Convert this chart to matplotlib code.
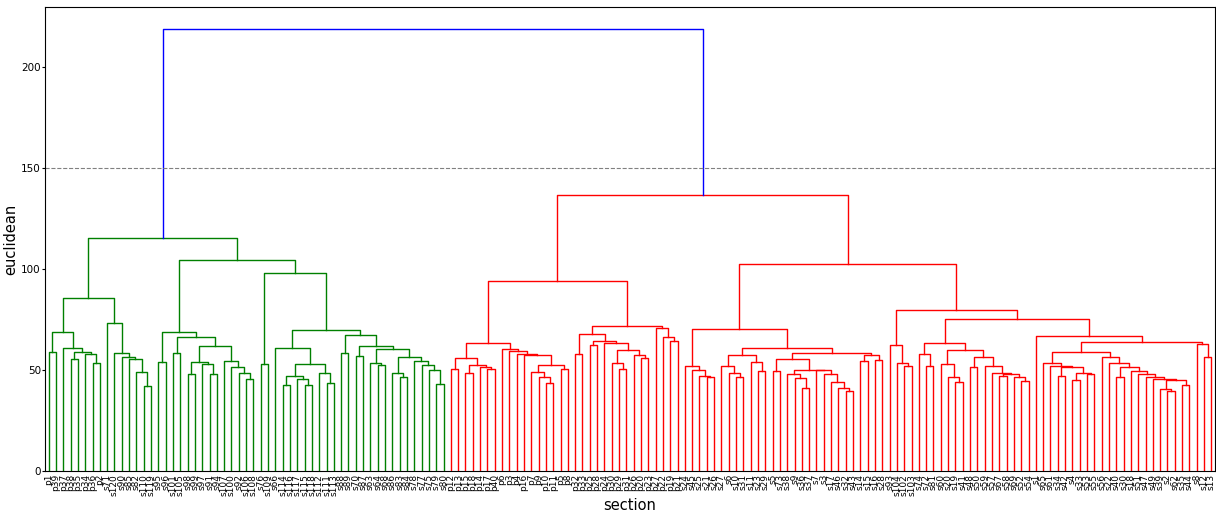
import matplotlib.pyplot as plt

# leaf order of the dendrogram, left to right
green_leaves = [
    "p1", "p39", "p37", "p38", "p35", "p34", "p36", "p2", "s71", "s120",
    "s90", "s85", "s82", "s110", "s119", "s95", "s96", "s101", "s105", "s98",
    "s99", "s97", "s91", "s94", "s107", "s100", "s92", "s106", "s108", "s76",
    "s109", "s66", "s114", "s116", "s117", "s115", "s118", "s112", "s111", "s113",
    "s88", "s89", "s70", "s87", "s63", "s64", "s68", "s86", "s83", "s84",
    "s78", "s77", "s75", "s79", "s80",
]
red_leaves = [
    "p12", "p13", "p15", "p18", "p14", "p17", "p40", "p6", "p3", "p4",
    "p16", "p7", "p9", "p10", "p11", "p5", "p8", "p32", "p33", "p25",
    "p28", "p24", "p30", "p29", "p31", "p26", "p20", "p23", "p27", "p22",
    "p19", "p21",
    "s24", "s45", "s25", "s21", "s26", "s27", "s6", "s10", "s31", "s11",
    "s23", "s29", "s5", "s73", "s38", "s9", "s36", "s37", "s7", "s3",
    "s17", "s46", "s32", "s43", "s14", "s15", "s16", "s28", "s93", "s104",
    "s102", "s103", "s74", "s72", "s81", "s60", "s20", "s19", "s41", "s48",
    "s50", "s59", "s57", "s67", "s58", "s69", "s52", "s54", "s1", "s65",
    "s61", "s34", "s42", "s4", "s33", "s53", "s55", "s56", "s22", "s40",
    "s30", "s18", "s51", "s47", "s49", "s39", "s2", "s62", "s35", "s44",
    "s8", "s12", "s13",
]

# merges: (node, left child, right child, height)
green_links = [
    ("g1", "p1", "p39", 58.9),
    ("g2", "p38", "p35", 55.3),
    ("g3", "p36", "p2", 53.3),
    ("g4", "p34", "g3", 57.9),
    ("g5", "g2", "g4", 59.2),
    ("g6", "p37", "g5", 61.2),
    ("g7", "g1", "g6", 69.0),
    ("g8", "s110", "s119", 42.2),
    ("g9", "s82", "g8", 49.0),
    ("g10", "s85", "g9", 55.6),
    ("g11", "s90", "g10", 56.6),
    ("g12", "s120", "g11", 58.3),
    ("g13", "s71", "g12", 73.1),
    ("g14", "g7", "g13", 85.8),
    ("g15", "s95", "s96", 53.8),
    ("g16", "s101", "s105", 58.6),
    ("g17", "s98", "s99", 48.0),
    ("g18", "s91", "s94", 48.0),
    ("g19", "s97", "g18", 52.8),
    ("g20", "g17", "g19", 53.8),
    ("g21", "s106", "s108", 45.4),
    ("g22", "s92", "g21", 48.7),
    ("g23", "s100", "g22", 51.3),
    ("g24", "s107", "g23", 54.6),
    ("g25", "g20", "g24", 62.0),
    ("g26", "g16", "g25", 66.2),
    ("g27", "g15", "g26", 68.8),
    ("g28", "s76", "s109", 53.0),
    ("g29", "s114", "s116", 42.4),
    ("g30", "s115", "s118", 42.4),
    ("g31", "s117", "g30", 45.4),
    ("g32", "g29", "g31", 47.3),
    ("g33", "s111", "s113", 43.4),
    ("g34", "s112", "g33", 48.7),
    ("g35", "g32", "g34", 53.0),
    ("g36", "s66", "g35", 61.2),
    ("g37", "s88", "s89", 58.6),
    ("g38", "s70", "s87", 56.9),
    ("g39", "s64", "s68", 52.3),
    ("g40", "s63", "g39", 53.6),
    ("g41", "s83", "s84", 46.4),
    ("g42", "s86", "g41", 48.4),
    ("g43", "s79", "s80", 42.9),
    ("g44", "s75", "g43", 50.3),
    ("g45", "s77", "g44", 52.5),
    ("g46", "s78", "g45", 54.6),
    ("g47", "g42", "g46", 56.6),
    ("g48", "g40", "g47", 60.7),
    ("g49", "g38", "g48", 61.9),
    ("g50", "g37", "g49", 67.6),
    ("g51", "g36", "g50", 70.1),
    ("g52", "g28", "g51", 98.2),
    ("g53", "g27", "g52", 104.8),
    ("green", "g14", "g53", 115.5),
]

red_left_links = [
    ("a1", "p12", "p13", 50.7),
    ("a2", "p15", "p18", 48.7),
    ("a3", "p17", "p40", 50.7),
    ("a4", "p14", "a3", 51.6),
    ("a5", "a2", "a4", 52.6),
    ("a6", "a1", "a5", 55.8),
    ("b1", "p10", "p11", 43.7),
    ("b2", "p9", "b1", 46.7),
    ("b3", "p7", "b2", 49.2),
    ("b4", "p5", "p8", 50.7),
    ("b5", "b3", "b4", 52.5),
    ("b6", "p16", "b5", 57.4),
    ("b7", "p4", "b6", 57.9),
    ("b8", "p3", "b7", 59.6),
    ("b9", "p6", "b8", 60.7),
    ("a7", "a6", "b9", 63.5),
    ("c1", "p32", "p33", 57.9),
    ("c2", "p25", "p28", 62.4),
    ("c3", "p29", "p31", 50.5),
    ("c4", "p30", "c3", 53.6),
    ("c5", "p20", "p23", 56.1),
    ("c6", "p26", "c5", 57.7),
    ("c7", "c4", "c6", 60.2),
    ("c8", "p24", "c7", 63.2),
    ("c9", "c2", "c8", 64.5),
    ("c10", "c1", "c9", 67.8),
    ("d1", "p19", "p21", 64.4),
    ("d2", "p22", "d1", 66.5),
    ("d3", "p27", "d2", 71.1),
    ("c11", "c10", "d3", 71.9),
    ("red_left", "a7", "c11", 94.2),
]

red_right_links = [
    ("e1", "s21", "s26", 46.7),
    ("e2", "s25", "e1", 47.0),
    ("e3", "s45", "e2", 50.3),
    ("e4", "s24", "e3", 52.1),
    ("f1", "s10", "s31", 46.4),
    ("f2", "s6", "f1", 48.8),
    ("f3", "s27", "f2", 52.0),
    ("f4", "s23", "s29", 49.7),
    ("f5", "s11", "f4", 54.0),
    ("f6", "f3", "f5", 57.4),
    ("h1", "s5", "s73", 49.7),
    ("h2", "s36", "s37", 40.9),
    ("h3", "s9", "h2", 45.9),
    ("h4", "s38", "h3", 48.0),
    ("h5", "s32", "s43", 39.6),
    ("h6", "s46", "h5", 41.3),
    ("h7", "s17", "h6", 44.2),
    ("h8", "s3", "h7", 48.3),
    ("h9", "s7", "h8", 50.0),
    ("h10", "h4", "h9", 50.3),
    ("h11", "h1", "h10", 55.3),
    ("h12", "s14", "s15", 54.6),
    ("h13", "s16", "s28", 54.9),
    ("h14", "h12", "h13", 57.4),
    ("h15", "h11", "h14", 58.3),
    ("h16", "f6", "h15", 61.2),
    ("e5", "e4", "h16", 70.6),
    ("k1", "s102", "s103", 52.0),
    ("k2", "s104", "k1", 53.6),
    ("k3", "s93", "k2", 62.4),
    ("m1", "s72", "s81", 52.0),
    ("m2", "s74", "m1", 57.9),
    ("m3", "s19", "s41", 44.2),
    ("m4", "s20", "m3", 46.7),
    ("m5", "s60", "m4", 52.8),
    ("m6", "s48", "s50", 51.6),
    ("m7", "s52", "s54", 44.6),
    ("m8", "s69", "m7", 46.5),
    ("m9", "s67", "s58", 47.0),
    ("m10", "m9", "m8", 47.9),
    ("m11", "s57", "m10", 48.7),
    ("m12", "s59", "m11", 52.0),
    ("m13", "m6", "m12", 56.3),
    ("m14", "m5", "m13", 59.9),
    ("m15", "m2", "m14", 63.5),
    ("n1", "s4", "s33", 45.0),
    ("n2", "s53", "s55", 47.9),
    ("n3", "n1", "n2", 48.7),
    ("n4", "s34", "s42", 47.0),
    ("n5", "n4", "n3", 51.6),
    ("n6", "s61", "n5", 52.0),
    ("n7", "s65", "n6", 53.6),
    ("q1", "s2", "s62", 39.4),
    ("q2", "s39", "q1", 40.4),
    ("q3", "s35", "s44", 42.4),
    ("q4", "q2", "q3", 45.0),
    ("q5", "s49", "q4", 45.5),
    ("q6", "s47", "q5", 46.4),
    ("q7", "s51", "q6", 48.0),
    ("q8", "s18", "q7", 49.7),
    ("q9", "s40", "s30", 46.7),
    ("q10", "q9", "q8", 51.3),
    ("q11", "s22", "q10", 53.6),
    ("q12", "s56", "q11", 56.3),
    ("n8", "n7", "q12", 59.1),
    ("o1", "s12", "s13", 56.6),
    ("o2", "s8", "o1", 62.9),
    ("n9", "n8", "o2", 64.0),
    ("n10", "s1", "n9", 66.8),
    ("m16", "m15", "n10", 75.1),
    ("k4", "k3", "m16", 79.7),
    ("red_right", "e5", "k4", 102.8),
]

top_links = [
    ("red", "red_left", "red_right", 136.6),
    ("root", "green", "red", 219.0),
]

threshold = 150
cluster_colors = {"green": "g", "red": "r"}

leaves = green_leaves + red_leaves
links = green_links + red_left_links + red_right_links + top_links

# leaf positions follow the scipy convention: 5, 15, 25, ...
pos = {name: 5 + 10 * i for i, name in enumerate(leaves)}
height = {name: 0.0 for name in leaves}
members = {name: [name] for name in leaves}
for node, a, b, h in links:
    pos[node] = (pos[a] + pos[b]) / 2
    height[node] = h
    members[node] = members[a] + members[b]

# links under the threshold take the colour of their cluster
cluster_of = {}
for cname, col in cluster_colors.items():
    for leaf in members[cname]:
        cluster_of[leaf] = col

fig = plt.figure(figsize=(12.16, 5.13), dpi=100)
ax = fig.add_axes([45 / 1216, 42 / 513, 1170 / 1216, 464 / 513])

for node, a, b, h in links:
    color = "b" if h >= threshold else cluster_of[members[node][0]]
    ax.plot([pos[a], pos[a], pos[b], pos[b]],
            [height[a], h, h, height[b]], color=color, lw=1.0)

ax.axhline(threshold, color="gray", ls="--", lw=0.8)

ax.set_xlim(0, 10 * len(leaves))
ax.set_ylim(0, max(height.values()) * 1.05)
ax.set_xticks([pos[name] for name in leaves])
ax.set_xticklabels(leaves, rotation=90, fontsize=6.5)
ax.tick_params(axis="x", length=0, pad=2)
ax.set_yticks([0, 50, 100, 150, 200])
ax.tick_params(axis="y", labelsize=7.5, length=2, pad=1)
ax.set_xlabel("section", fontsize=10.5, labelpad=2)
ax.set_ylabel("euclidean", fontsize=10.5, labelpad=2)

fig.savefig("out.png", dpi=100)
